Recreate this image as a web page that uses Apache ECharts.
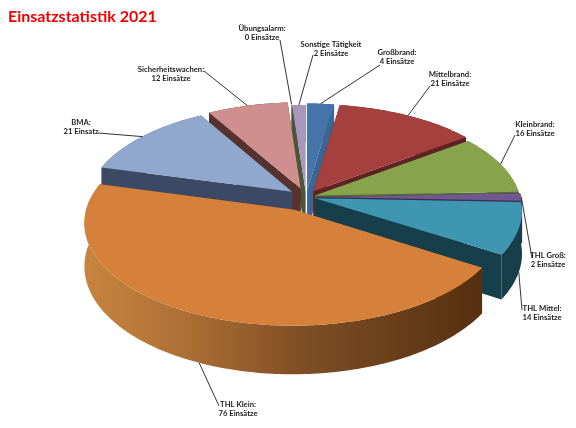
<!DOCTYPE html>
<html><head><meta charset="utf-8">
<style>html,body{margin:0;padding:0;background:#fff}#c{width:576px;height:428px}</style>
<script src="https://cdn.jsdelivr.net/npm/echarts@6/dist/echarts.min.js"></script>
</head><body><div id="c"></div>
<script>
const names = ['Großbrand:','Mittelbrand:','Kleinbrand:','THL Groß:','THL Mittel:','THL Klein:','BMA:','Sicherheitswachen:','Übungsalarm:','Sonstige Tätigkeit'];
const values = [4,21,16,2,14,76,21,12,0,2];
const countLabels = ['4 Einsätze','21 Einsätze','16 Einsätze','2 Einsätze','14 Einsätze','76 Einsätze','21 Einsatz','12 Einsätze','0 Einsätze','2 Einsätze'];

// styles and layout
const topColors  = ['#4673a8','#a5403e','#87a44c','#71588f','#3f96b0','#d5813c','#90a8ce','#cf8f8e','#5d6b42','#a898bd'];
const wallColors = ['#3a6594','#5e2222','#566b30','#3a2c52','#173f4b','#8a5428','#3c4964','#57322e','#4a5636','#6a5c80'];
const explode    = [0.07,0.07,0.047,0.05,0.046,0.14,0.086,0.09,0.06,0.05];
const labelCenters = [[397,57],[450,79],[535,129],[548,260],[542,313],[238,409],[81,127],[171,74],[262,33],[331,49]];
const leaderElbows = [[380,65],[430,86],[515,135],[532,258],[522,310],[219,406],[98,133],[204,71],[280,40],[313,55]];
const CX=306, CY=197, RX=205, RY=98.6, PERSP=0.12, DEPTH=42;

const total = values.reduce((a,b)=>a+b,0);
const rad = d=>d*Math.PI/180;
let acc=0;
const spans = values.map(v=>{const s=acc/total*360; acc+=v; return [s,acc/total*360];});
const mids = spans.map(s=>(s[0]+s[1])/2);
const order = mids.map((m,i)=>[Math.cos(rad(m)),i]).sort((a,b)=>b[0]-a[0]).map(p=>p[1]);

function project(u,v,low){
  const w=1+PERSP*v;
  return [CX+RX*u/w, CY-RY*v/w+(low?DEPTH/w:0)];
}
function pt(i,theta,r,low){
  const m=rad(mids[i]), t=rad(theta), e=explode[i];
  return {u:e*Math.sin(m)+r*Math.sin(t), v:e*Math.cos(m)+r*Math.cos(t), p:project(e*Math.sin(m)+r*Math.sin(t), e*Math.cos(m)+r*Math.cos(t), low)};
}
const P=(i,t,r,low)=>pt(i,t,r,low).p;

function renderItem(params, api){
  const i=params.dataIndex;
  const sweep=api.value(0)/total*360;
  const a=spans[i][0], b=a+sweep;
  const rank=order.indexOf(i)*10+10;
  const arc=[], arcLow=[];
  const steps=Math.max(1,Math.ceil(sweep));
  for(let k=0;k<=steps;k++){const t=a+sweep*k/steps; arc.push(P(i,t,1,false)); arcLow.push(P(i,t,1,true));}
  const A=P(i,a,0,false), AL=P(i,a,0,true);
  const wallFill = i===5
    ? {type:'linear',x:0,y:0,x2:1,y2:0,colorStops:[{offset:0,color:'#c8843e'},{offset:0.25,color:'#ad7035'},{offset:0.55,color:'#7f4e25'},{offset:1,color:'#55300f'}]}
    : wallColors[i];
  const kids=[
    {type:'polygon',z2:rank,shape:{points:[A,arc[0],arcLow[0],AL]},style:{fill:wallColors[i]}},
    {type:'polygon',z2:rank+1,shape:{points:[A,arc[arc.length-1],arcLow[arcLow.length-1],AL]},style:{fill:wallColors[i]}},
    {type:'polygon',z2:rank+2,shape:{points:arc.concat(arcLow.slice().reverse())},style:{fill:wallFill}},
    {type:'polygon',z2:rank+3,shape:{points:[A].concat(arc)},style:{fill:topColors[i]}}
  ];
  const anchor=pt(i,mids[i],1,false);
  const end=anchor.v<-0.2?P(i,mids[i],1,true):anchor.p;
  kids.push({type:'polyline',z2:500,shape:{points:[leaderElbows[i],end]},style:{stroke:'#333',lineWidth:1,fill:null}});
  kids.push({type:'text',z2:501,style:{x:labelCenters[i][0],y:labelCenters[i][1],text:names[i]+'\n'+countLabels[i],
    align:'center',verticalAlign:'middle',font:'bold 7.7px Lato',lineHeight:9.6,fill:'#222'}});
  return {type:'group',children:kids};
}

const chart=echarts.init(document.getElementById('c'),null,{renderer:'canvas'});
chart.setOption({
  animation:false,
  backgroundColor:'#fff',
  title:{text:'Einsatzstatistik 2021',left:8,top:9,padding:0,textStyle:{color:'#f00000',fontFamily:'Lato',fontWeight:'bold',fontSize:16}},
  series:[{type:'custom',coordinateSystem:'none',silent:true,renderItem,data:values.map(v=>[v])}]
});
</script></body></html>
